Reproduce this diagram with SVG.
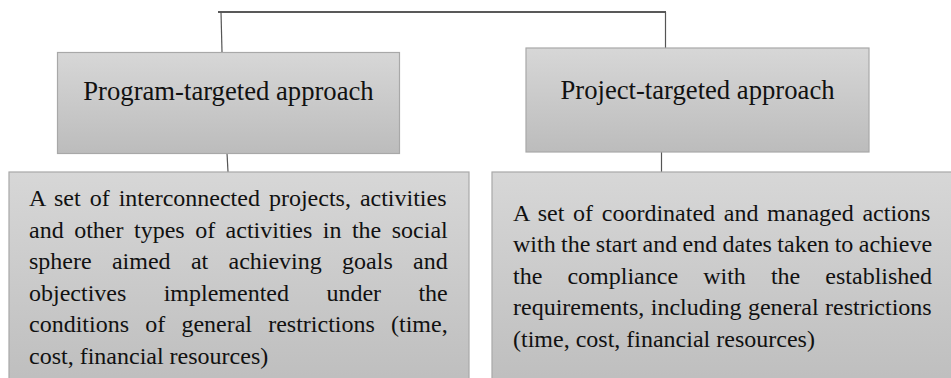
<svg xmlns="http://www.w3.org/2000/svg" width="951" height="378" viewBox="0 0 951 378">
<defs>
<linearGradient id="g" x1="0" y1="0" x2="0" y2="1">
<stop offset="0" stop-color="#d7d7d7"/>
<stop offset="1" stop-color="#bcbcbc"/>
</linearGradient>
<style>
.box{fill:url(#g);stroke:#a8a8a8;stroke-width:1.2}
.title{font-family:"Liberation Serif","Times New Roman",serif;font-size:26.67px;fill:#111;text-anchor:middle}
.body{font-family:"Liberation Serif","Times New Roman",serif;font-size:24px;fill:#111}
.conn{fill:none;stroke:#555;stroke-width:1.2}
</style>
</defs>
<rect width="951" height="378" fill="#ffffff"/>
<g id="connectors">
<path class="conn" d="M218,12 H666" style="stroke:#222;stroke-width:1.6"/>
<path class="conn" d="M221,12 L222,52"/>
<path class="conn" d="M665.5,12 V48"/>
<path class="conn" d="M227,153 L228,172"/>
<path class="conn" d="M661.5,152 V172"/>
</g>
<g id="program-approach">
<rect class="box" x="57.5" y="52.5" width="342" height="101"/>
<text class="title" x="228.5" y="100">Program-targeted approach</text>
</g>
<g id="project-approach">
<rect class="box" x="526" y="48" width="343" height="104"/>
<text class="title" x="697.5" y="99">Project-targeted approach</text>
</g>
<g id="program-definition">
<rect class="box" x="9" y="172" width="460" height="230"/>
<text class="body" x="29" y="206" word-spacing="3">A set of interconnected projects, activities</text>
<text class="body" x="29" y="237.6" word-spacing="4.5">and other types of activities in the social</text>
<text class="body" x="29" y="269.2" word-spacing="14.3">sphere aimed at achieving goals and</text>
<text class="body" x="29" y="300.8" word-spacing="31.4">objectives implemented under the</text>
<text class="body" x="29" y="332.4" word-spacing="10.2">conditions of general restrictions (time,</text>
<text class="body" x="29" y="364">cost, financial resources)</text>
</g>
<g id="project-definition">
<rect class="box" x="492" y="172" width="480" height="230"/>
<text class="body" x="513" y="220.5" word-spacing="2.7">A set of coordinated and managed actions</text>
<text class="body" x="513" y="252" word-spacing="-0.6">with the start and end dates taken to achieve</text>
<text class="body" x="513" y="283.5" word-spacing="19.1">the compliance with the established</text>
<text class="body" x="513" y="315" word-spacing="0.5">requirements, including general restrictions</text>
<text class="body" x="513" y="346.5">(time, cost, financial resources)</text>
</g>
</svg>
